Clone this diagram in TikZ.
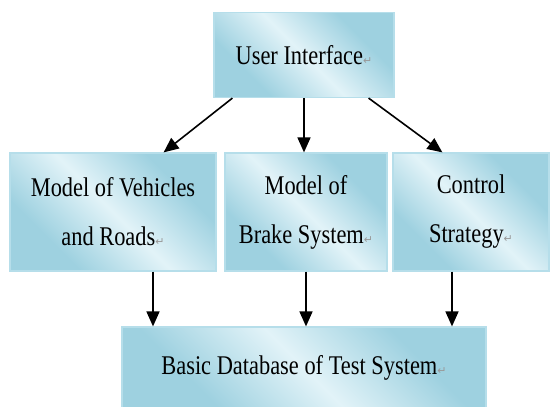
\documentclass[tikz,border=0pt]{standalone}
\usepackage{fontspec}
\usepackage{tikz}
\usetikzlibrary{arrows.meta}
\setmainfont{Liberation Serif}[FakeStretch=0.83]
\newfontfamily\retfont{DejaVu Sans}
\newcommand{\retmark}{{\retfont\fontsize{11}{11}\selectfont\color{gray!80}↵}}

\definecolor{boxdark}{RGB}{158,209,224}
\definecolor{boxlight}{RGB}{226,243,248}
\definecolor{boxedge}{RGB}{182,222,234}
\pgfdeclarehorizontalshading{boxshade}{100bp}{color(0bp)=(boxdark); color(30bp)=(boxdark); color(50bp)=(boxlight); color(70bp)=(boxdark); color(100bp)=(boxdark)}

\tikzset{
  blockbox/.style={draw=boxedge, line width=1.2pt, shading=boxshade, shading angle=45,
    align=center, inner sep=0pt, font=\fontsize{27}{49}\selectfont},
  arr/.style={line width=1.6pt, -{Triangle[length=15pt,width=13pt]}}
}

\begin{document}
\begin{tikzpicture}[x=1pt,y=-1pt]
      \useasboundingbox (0,0) rectangle (550,407);
      \clip (0,0) rectangle (550,407);

      % Draw the boxes
      \node[blockbox, minimum width=180pt, minimum height=85pt] (ui) at (304,55) {User Interface\retmark};
      \node[blockbox, minimum width=206pt, minimum height=118pt] (veh) at (113,212) {Model of Vehicles\\and Roads\retmark};
      \node[blockbox, minimum width=162pt, minimum height=118pt] (brake) at (306,212) {Model of\\Brake System\retmark};
      \node[blockbox, minimum width=156pt, minimum height=118pt] (ctrl) at (471,212) {Control\\Strategy\retmark};
      \node[blockbox, minimum width=364pt, minimum height=82pt] (db) at (304,368) {Basic Database of Test System\retmark};

      % Draw the arrows from the interface
      \draw[arr] ([xshift=19pt]ui.south west) -- ([xshift=-53pt]veh.north east);
      \draw[arr] (ui.south) -- (ui.south |- brake.north);
      \draw[arr] ([xshift=-26pt]ui.south east) -- ([xshift=50pt]ctrl.north west);

      % Draw the arrows down to the database
      \coordinate (v1) at ([xshift=40pt]veh.south);
      \coordinate (b1) at (brake.south);
      \coordinate (c1) at ([xshift=-19pt]ctrl.south);
      \draw[arr] (v1) -- (v1 |- db.north);
      \draw[arr] (b1) -- (b1 |- db.north);
      \draw[arr] (c1) -- (c1 |- db.north);
  \end{tikzpicture}
\end{document}
